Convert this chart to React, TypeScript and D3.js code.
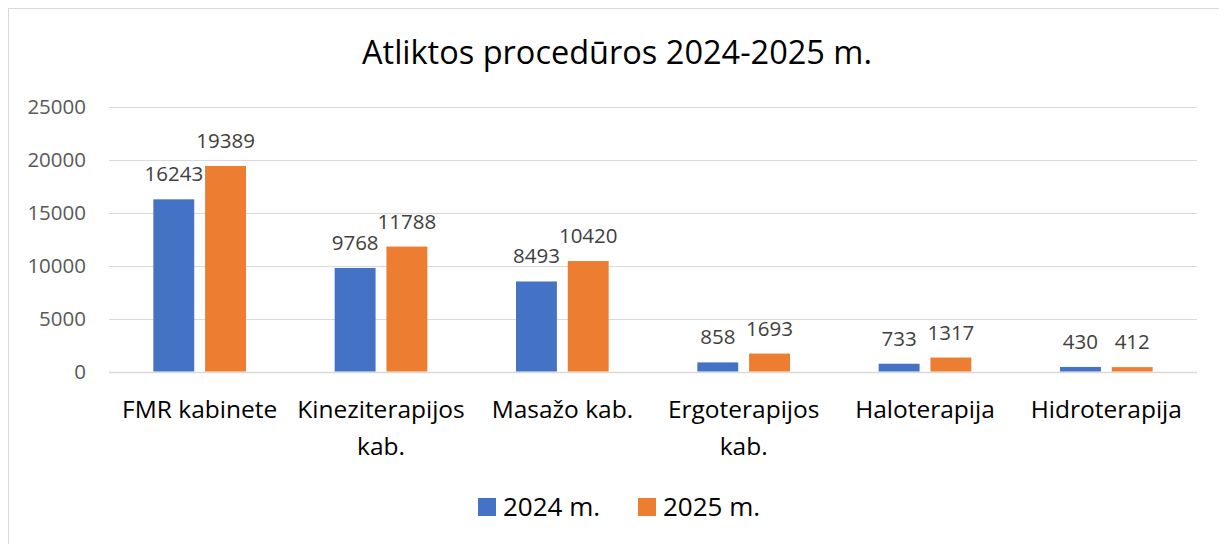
import React from "react";
import * as d3 from "d3";

const categories: string[][] = [
  ["FMR kabinete"],
  ["Kineziterapijos", "kab."],
  ["Masažo kab."],
  ["Ergoterapijos", "kab."],
  ["Haloterapija"],
  ["Hidroterapija"],
];
const seriesNames = ["2024 m.", "2025 m."];
const values2024 = [16243, 9768, 8493, 858, 733, 430];
const values2025 = [19389, 11788, 10420, 1693, 1317, 412];
const yTicks = [0, 5000, 10000, 15000, 20000, 25000];
const colors = ["#4472C4", "#ED7D31"];
const title = "Atliktos procedūros 2024-2025 m.";

const W = 1219;
const H = 536;
const FONT = "'Open Sans', 'Noto Sans', sans-serif";

export default function App() {
  const left = 101;
  const right = 1189;
  const top = 98.5;
  const bottom = 363.5;
  const keys = categories.map((c) => c.join(" "));
  const x0 = d3
    .scaleBand<string>()
    .domain(keys)
    .range([left, right])
    .paddingInner(0.489)
    .paddingOuter(0.2445);
  const x1 = d3
    .scaleBand<string>()
    .domain(seriesNames)
    .range([0, x0.bandwidth()])
    .paddingInner(0.21)
    .paddingOuter(0);
  const y = d3.scaleLinear().domain([0, 25000]).range([bottom, top]);
  const series = [values2024, values2025];

  return (
    <svg width={W} height={H} style={{ display: "block" }}>
      <rect x={0.5} y={0.5} width={1217} height={560} fill="#fff" stroke="#d9d9d9" strokeWidth={1} />
      <text x={609} y={56} textAnchor="middle" fontFamily={FONT} fontSize={32.5} fill="#000">
        {title}
      </text>
      {yTicks.map((t) => (
        <g key={t}>
          <line x1={left} x2={right} y1={Math.round(y(t)) + 0.5} y2={Math.round(y(t)) + 0.5} stroke="#d9d9d9" strokeWidth={t === 0 ? 1.5 : 1} />
          <text x={78} y={y(t) + 7} textAnchor="end" fontFamily={FONT} fontSize={20.5} fill="#595959">
            {t}
          </text>
        </g>
      ))}
      {keys.map((k, i) => (
        <g key={k} transform={`translate(${x0(k)},0)`}>
          {seriesNames.map((s, j) => {
            const v = series[j][i];
            const bx = x1(s)!;
            const bw = x1.bandwidth();
            return (
              <g key={s}>
                <rect x={bx} y={y(v)} width={bw} height={bottom - y(v)} fill={colors[j]} />
                <text x={bx + bw / 2} y={y(v) - 18} textAnchor="middle" fontFamily={FONT} fontSize={20.5} fill="#404040">
                  {v}
                </text>
              </g>
            );
          })}
          {categories[i].map((line, li) => (
            <text key={li} x={x0.bandwidth() / 2} y={410 + li * 37} textAnchor="middle" fontFamily={FONT} fontSize={24.5} fill="#000">
              {line}
            </text>
          ))}
        </g>
      ))}
      {seriesNames.map((s, j) => {
        const lx = [470, 630][j];
        return (
          <g key={s}>
            <rect x={lx} y={490} width={18} height={18} fill={colors[j]} />
            <text x={lx + 25} y={508} fontFamily={FONT} fontSize={26} fill="#000">
              {s}
            </text>
          </g>
        );
      })}
    </svg>
  );
}
